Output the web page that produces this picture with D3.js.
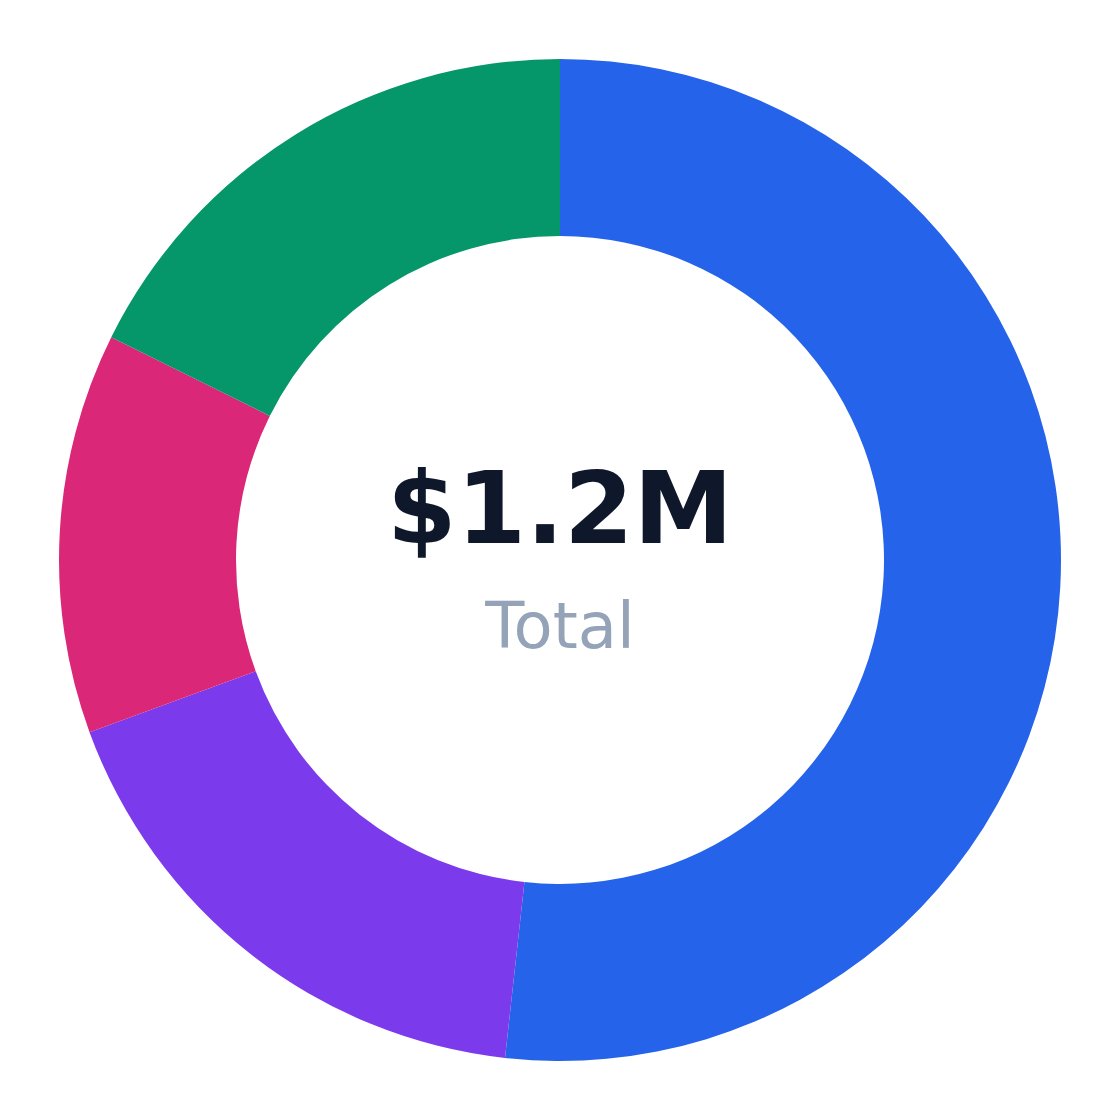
<!DOCTYPE html>
<html>
<head>
    <meta charset="utf-8">
    <title>Total donut</title>
    <script src="https://d3js.org/d3.v7.min.js"></script>
    <style>
        body { margin: 0; background: #fff; }
        svg { display: block; }
        .slice { stroke: none; }
    </style>
</head>
<body>
    <div id="chart"></div>

    <script>
        // Segment data (values in thousands of dollars)
        let categories = ['A', 'B', 'C', 'D'];
        let values = [621, 212, 155, 212];
        let colors = ['#2563eb', '#7c3aed', '#db2777', '#059669'];
        let centerValue = '$1.2M';
        let centerLabel = 'Total';

        let width = 1120, height = 1120;
        let outerR = 501, innerR = 324;

        let svg = d3.select("#chart").append("svg")
            .attr("width", width)
            .attr("height", height);

        let g = svg.append("g")
            .attr("transform", `translate(${width / 2},${height / 2})`);

        let data = categories.map((c, i) => ({name: c, value: values[i], color: colors[i]}));

        let pie = d3.pie()
            .value(d => d.value)
            .sort(null);

        let arc = d3.arc()
            .innerRadius(innerR)
            .outerRadius(outerR);

        g.selectAll("path")
            .data(pie(data))
            .enter().append("path")
            .attr("class", "slice")
            .attr("d", arc)
            .attr("fill", d => d.data.color);

        // Centre labels
        g.append("text")
            .text(centerValue)
            .attr("x", 0)
            .attr("y", -17)
            .attr("text-anchor", "middle")
            .attr("font-family", "DejaVu Sans")
            .attr("font-weight", "bold")
            .attr("font-size", 100)
            .attr("fill", "#0f172a");

        g.append("text")
            .text(centerLabel)
            .attr("x", 0)
            .attr("y", 88)
            .attr("text-anchor", "middle")
            .attr("font-family", "DejaVu Sans")
            .attr("font-size", 64)
            .attr("fill", "#94a3b8");
    </script>
</body>
</html>
